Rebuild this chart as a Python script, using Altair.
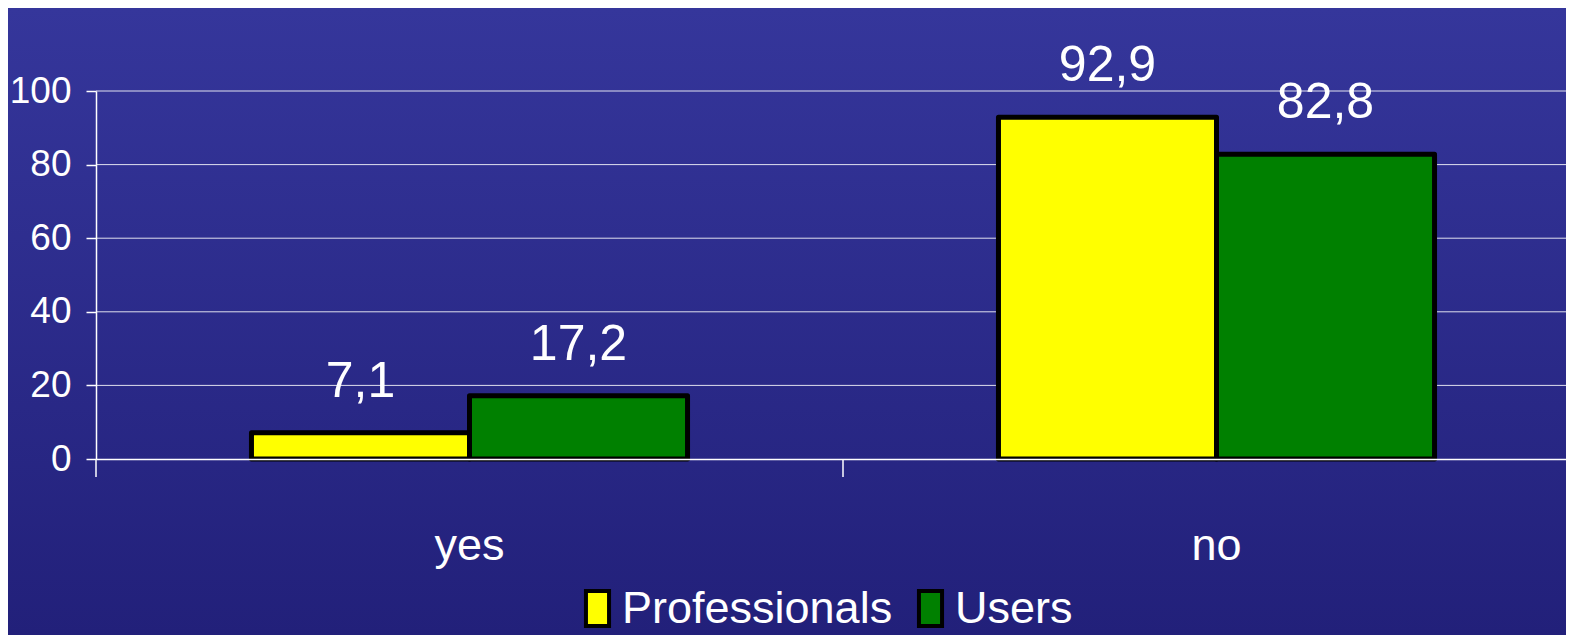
import altair as alt
import pandas as pd

categories = ["yes", "no"]
series = ["Professionals", "Users"]
professionals = [7.1, 92.9]
users = [17.2, 82.8]
y_ticks = [0, 20, 40, 60, 80, 100]
colors = ["#FFFF00", "#008000"]

rows = []
for i, c in enumerate(categories):
    rows.append({"answer": c, "group": series[0], "value": professionals[i]})
    rows.append({"answer": c, "group": series[1], "value": users[i]})
df = pd.DataFrame(rows)
df["label"] = df["value"].map(lambda v: f"{v:.1f}".replace(".", ","))

FONT = "Liberation Sans, Arial, sans-serif"
W, H = 1470, 368
PAD = {"left": 88, "top": 83, "right": 0, "bottom": 176}

x_scale = alt.Scale(paddingInner=0, paddingOuter=0, range=[0, 1494])
xo_scale = alt.Scale(paddingInner=0, paddingOuter=0.713)

bg = alt.Chart(alt.Data(values=[{}])).mark_rect(
    color=alt.LinearGradient(
        gradient="linear",
        stops=[alt.GradientStop(color="#35369b", offset=0),
               alt.GradientStop(color="#22207a", offset=1)],
        x1=0, x2=0, y1=0, y2=1,
    )
).encode(
    x=alt.value(-PAD["left"]), x2=alt.value(W + PAD["right"]),
    y=alt.value(-PAD["top"]), y2=alt.value(H + PAD["bottom"]),
)

grid = alt.Chart(pd.DataFrame({"tick": y_ticks[1:]})).mark_rule(
    color="white", strokeWidth=1, opacity=0.85
).encode(y=alt.Y("tick:Q", scale=alt.Scale(domain=[0, 100], nice=False)))

base = alt.Chart(df)

bars = base.mark_bar(stroke="black", strokeWidth=5, strokeJoin="round").encode(
    x=alt.X("answer:N", sort=categories, scale=x_scale, title=None,
            axis=alt.Axis(labelAngle=0, ticks=False, tickSize=0, domainColor="white",
                          domainWidth=1.5, labelColor="white", labelFontSize=45,
                          labelFont=FONT, labelPadding=64, grid=False, zindex=1)),
    xOffset=alt.XOffset("group:N", sort=series, scale=xo_scale),
    y=alt.Y("value:Q", scale=alt.Scale(domain=[0, 100], nice=False), title=None,
            axis=alt.Axis(values=y_ticks, grid=False, domainColor="white", domainWidth=1.5,
                          tickColor="white", tickSize=10, tickWidth=1.5, labelColor="white",
                          labelFontSize=37, labelFont=FONT, labelPadding=15, zindex=1)),
    fill=alt.Fill("group:N", sort=series,
                  scale=alt.Scale(domain=series, range=colors),
                  legend=alt.Legend(title=None, orient="none", direction="horizontal",
                                    legendX=479, legendY=495,
                                    symbolType="M-0.66,-1H0.66V1H-0.66Z", symbolSize=1225,
                                    symbolStrokeColor="black", symbolStrokeWidth=4,
                                    labelColor="white", labelFontSize=45, labelFont=FONT,
                                    labelLimit=0, labelOffset=2, columnPadding=15)),
)

labels = base.mark_text(baseline="bottom", dy=-26, color="white", fontSize=50, font=FONT).encode(
    x=alt.X("answer:N", sort=categories, scale=x_scale),
    xOffset=alt.XOffset("group:N", sort=series, scale=xo_scale),
    y="value:Q",
    text="label:N",
)

ticks = alt.Chart(pd.DataFrame({"answer": categories})).mark_rule(color="white", strokeWidth=1.5).encode(
    x=alt.X("answer:N", sort=categories, scale=x_scale, bandPosition=0),
    y=alt.value(H), y2=alt.value(H + 18),
)

chart = alt.layer(bg, grid, bars, labels, ticks).properties(
    width=W, height=H, padding=PAD,
    autosize=alt.AutoSizeParams(type="none"),
    background="#2d2d8a",
).configure_view(stroke=None)

chart.save("out.html", embed_options={"renderer": "svg", "actions": False})
